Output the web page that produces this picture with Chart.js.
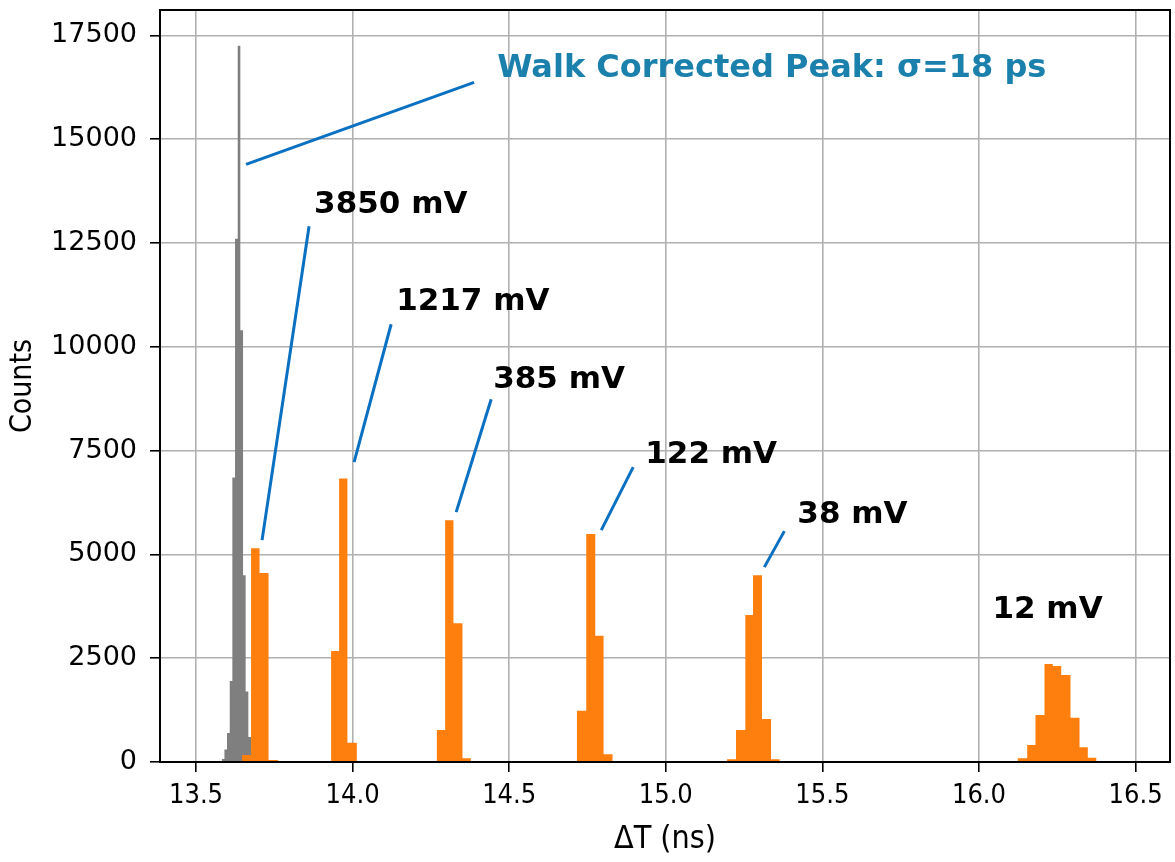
<!DOCTYPE html>
<html>
<head>
<meta charset="utf-8">
<script src="https://cdn.jsdelivr.net/npm/chart.js@4.4.1/dist/chart.umd.min.js"></script>
<style>
  html, body { margin: 0; padding: 0; background: #ffffff; }
  #chart { display: block; }
</style>
</head>
<body>
<canvas id="chart" width="1175" height="862"></canvas>
<script>
// --- data: bin edges (ns) and counts per bin ---
const xTicks = [13.5, 14.0, 14.5, 15.0, 15.5, 16.0, 16.5];
const yTicks = [0, 2500, 5000, 7500, 10000, 12500, 15000, 17500];

// walk corrected peak (gray)
const walkEdges = [13.5821, 13.5907, 13.5990, 13.6077, 13.6160, 13.6246, 13.6332, 13.6415, 13.6502, 13.6585, 13.6671, 13.6757];
const walkCounts = [70, 300, 700, 1950, 6850, 12600, 17250, 10400, 4500, 1700, 600];

// uncorrected peaks per pulse height (orange)
const peakNames = ['3850 mV', '1217 mV', '385 mV', '122 mV', '38 mV', '12 mV'];
const peakEdges = [
    [13.6470, 13.6757, 13.7029, 13.7316, 13.7620],
    [13.9313, 13.9569, 13.9834, 14.0134],
    [14.2690, 14.2955, 14.3220, 14.3508, 14.3776],
    [14.7163, 14.7460, 14.7748, 14.8013, 14.8300],
    [15.1955, 15.2243, 15.2540, 15.2786, 15.3073, 15.3361, 15.3636],
    [16.1240, 16.1540, 16.1805, 16.2093, 16.2358, 16.2626, 16.2923, 16.3211, 16.3476, 16.3754]
];
const peakCounts = [
    [170, 5150, 4550, 50],
    [2672, 6830, 465],
    [770, 5825, 3340, 90],
    [1235, 5490, 3040, 185],
    [65, 770, 3540, 4500, 1035, 65],
    [90, 410, 1130, 2360, 2310, 2095, 1065, 355, 105]
];

// annotation placement (data coordinates)
const walkTitle = 'Walk Corrected Peak: \u03c3=18 ps';
const walkTitlePos = [14.4617, 16705];
const walkLeader = [13.6597, 14395, 14.388, 16368];
const labelPos = [[13.877, 13408], [14.139, 11073], [14.449, 9195], [14.9345, 7390], [15.420, 5946], [16.043, 3659]];
const leaders = [
    [13.861, 12902, 13.7109, 5344],
    [14.123, 10543, 14.0048, 7221],
    [14.4425, 8738, 14.3307, 6018],
    [14.896, 7101, 14.794, 5585],
    [15.3786, 5561, 15.3147, 4694],
    null
];

// turn bin edges + counts into step points (last edge closes the bin at 0)
function stepPoints(edges, counts) {
    const pts = counts.map((c, i) => ({ x: edges[i], y: c }));
    pts.push({ x: edges[edges.length - 1], y: 0 });
    return pts;
}

const orangePts = [];
peakEdges.forEach((edges, i) => orangePts.push(...stepPoints(edges, peakCounts[i])));
const grayPts = stepPoints(walkEdges, walkCounts);

// frame + annotations
const annotatePlugin = {
    id: 'annotate',
    afterDraw(chart) {
        const { ctx, chartArea: a, scales: { x, y } } = chart;
        ctx.save();
        ctx.strokeStyle = '#000';
        ctx.lineWidth = 2;
        ctx.strokeRect(a.left, a.top, a.right - a.left, a.bottom - a.top);

        const line = (l) => {
            ctx.beginPath();
            ctx.moveTo(x.getPixelForValue(l[0]), y.getPixelForValue(l[1]));
            ctx.lineTo(x.getPixelForValue(l[2]), y.getPixelForValue(l[3]));
            ctx.stroke();
        };
        ctx.strokeStyle = '#0a70c2';
        ctx.lineWidth = 3;
        line(walkLeader);
        leaders.forEach(l => { if (l) line(l); });

        ctx.textAlign = 'left';
        ctx.textBaseline = 'middle';
        ctx.font = 'bold 32px "DejaVu Sans"';
        ctx.fillStyle = '#1b80ab';
        ctx.fillText(walkTitle, x.getPixelForValue(walkTitlePos[0]), y.getPixelForValue(walkTitlePos[1]));
        ctx.fillStyle = '#000';
        ctx.font = 'bold 31px "DejaVu Sans"';
        peakNames.forEach((name, i) => {
            ctx.fillText(name, x.getPixelForValue(labelPos[i][0]), y.getPixelForValue(labelPos[i][1]));
        });
        ctx.restore();
    }
};

const condensed = '"DejaVu Sans Condensed", "Liberation Sans Narrow", "DejaVu Sans", sans-serif';

new Chart(document.getElementById('chart'), {
    type: 'line',
    data: {
        datasets: [
            {
                label: 'uncorrected',
                data: orangePts,
                stepped: 'before',
                fill: 'origin',
                backgroundColor: '#ff7f0e',
                borderWidth: 0,
                pointRadius: 0,
                order: 0
            },
            {
                label: 'walk corrected',
                data: grayPts,
                stepped: 'before',
                fill: 'origin',
                backgroundColor: '#7f7f7f',
                borderWidth: 0,
                pointRadius: 0,
                order: 1
            }
        ]
    },
    options: {
        responsive: false,
        animation: false,
        layout: { padding: { left: 0, right: 5, top: 10, bottom: 0 } },
        plugins: {
            legend: { display: false },
            tooltip: { enabled: false }
        },
        scales: {
            x: {
                type: 'linear',
                min: 13.385,
                max: 16.61,
                z: 1,
                afterBuildTicks: s => { s.ticks = xTicks.map(v => ({ value: v })); },
                afterFit: s => { s.height = 100; s.paddingLeft = 0; s.paddingRight = 0; },
                ticks: {
                    callback: v => v.toFixed(1),
                    autoSkip: false,
                    maxRotation: 0,
                    padding: 8,
                    color: '#000',
                    font: { family: condensed, size: 27 }
                },
                grid: { color: '#b0b0b0', lineWidth: 1.6, tickColor: '#000', tickLength: 10, tickWidth: 1.6 },
                border: { display: true, color: '#000', width: 2 },
                title: {
                    display: true,
                    text: '\u0394T (ns)',
                    color: '#000',
                    font: { family: condensed, size: 32 },
                    padding: { top: 0, bottom: 3 }
                }
            },
            y: {
                type: 'linear',
                min: 0,
                max: 18112,
                z: 1,
                afterBuildTicks: s => { s.ticks = yTicks.map(v => ({ value: v })); },
                afterFit: s => { s.width = 160; s.paddingTop = 0; s.paddingBottom = 0; },
                ticks: {
                    callback: v => String(v),
                    autoSkip: false,
                    padding: 13,
                    color: '#000',
                    font: { family: 'DejaVu Sans', size: 27 }
                },
                grid: { color: '#b0b0b0', lineWidth: 1.6, tickColor: '#000', tickLength: 10, tickWidth: 1.6 },
                border: { display: true, color: '#000', width: 2 },
                title: {
                    display: true,
                    text: 'Counts',
                    color: '#000',
                    font: { family: condensed, size: 30 },
                    padding: { top: 5, bottom: 0 }
                }
            }
        }
    },
    plugins: [annotatePlugin]
});
</script>
</body>
</html>
